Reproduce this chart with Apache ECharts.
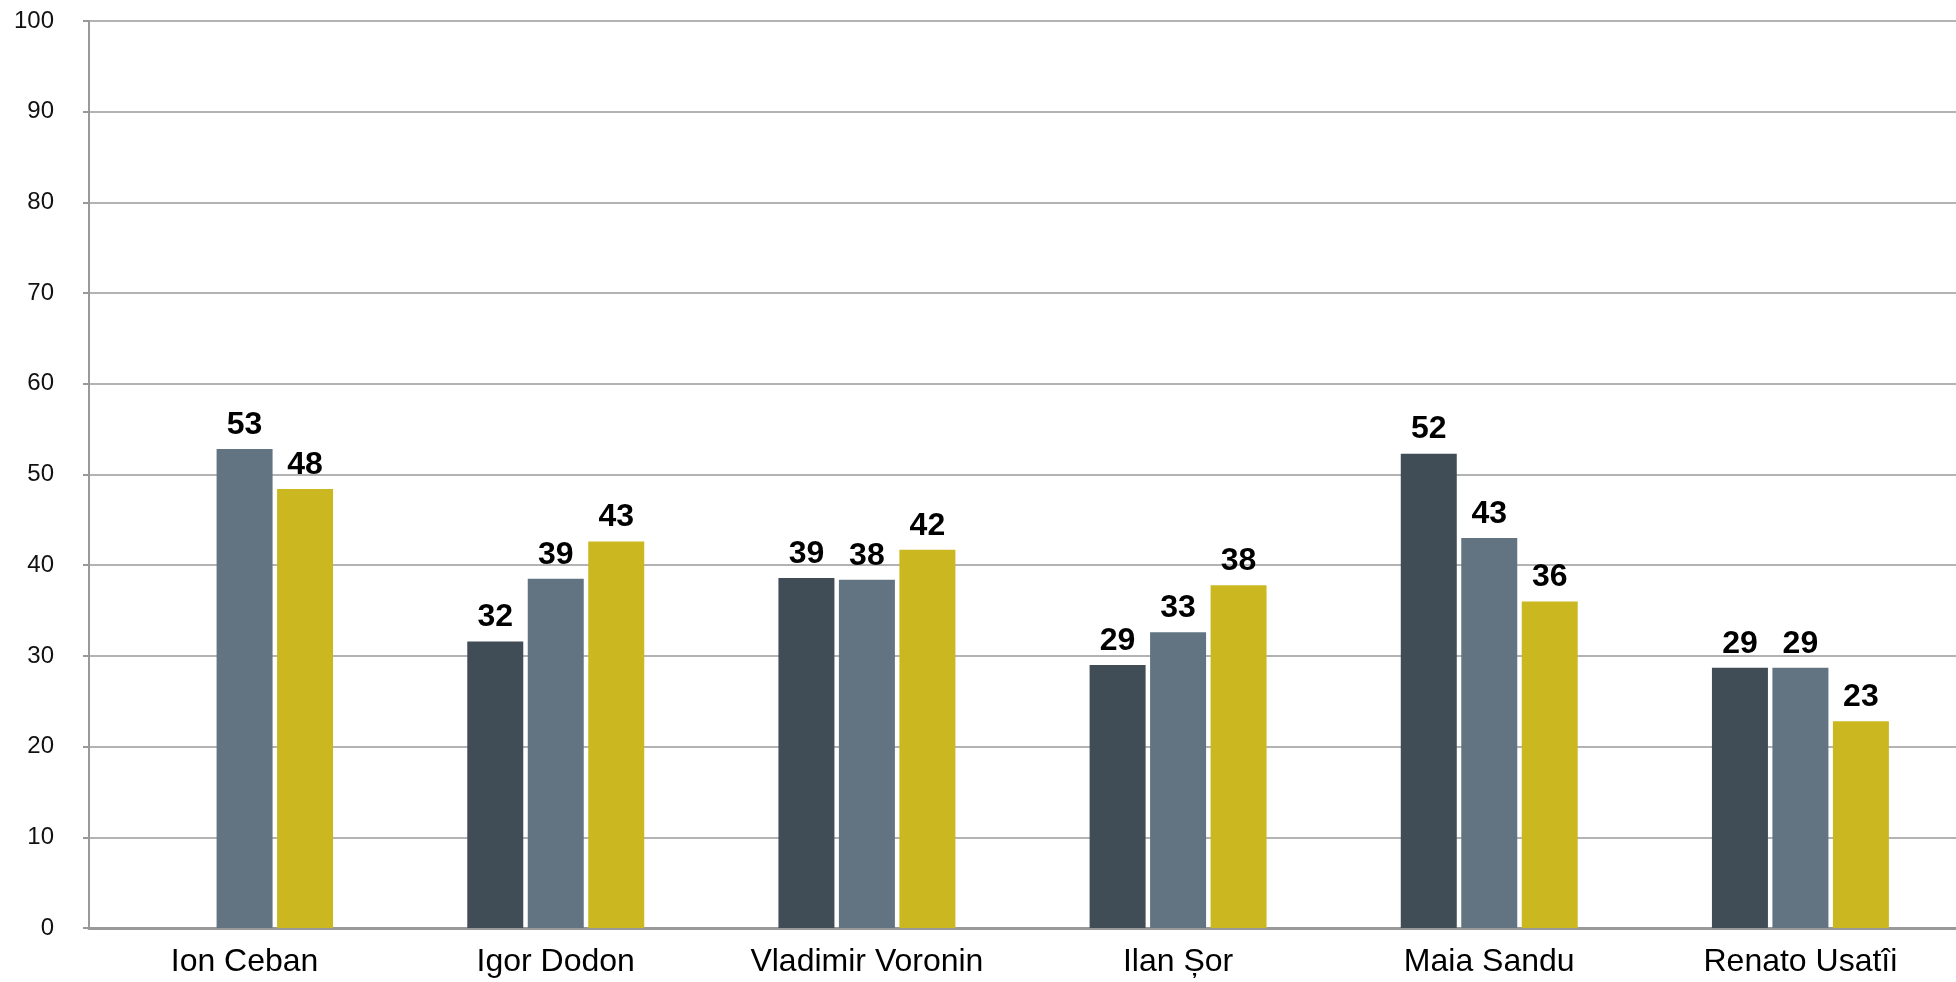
<!DOCTYPE html>
<html>
<head>
<meta charset="utf-8">
<script src="https://cdn.jsdelivr.net/npm/echarts@6/dist/echarts.min.js"></script>
<style>
  html, body { margin: 0; padding: 0; background: #ffffff; }
  #chart { width: 1956px; height: 982px; }
</style>
</head>
<body>
<div id="chart"></div>
<script>
  // candidates on the x axis
  var categories = ['Ion Ceban', 'Igor Dodon', 'Vladimir Voronin', 'Ilan Șor', 'Maia Sandu', 'Renato Usatîi'];
  // three series (no legend in the picture)
  var seriesDark = [null, 31.6, 38.6, 29.0, 52.3, 28.7];
  var seriesMid = [52.8, 38.5, 38.4, 32.6, 43.0, 28.7];
  var seriesGold = [48.4, 42.6, 41.7, 37.8, 36.0, 22.8];
  var yTicks = { min: 0, max: 100, interval: 10 };

  var labelStyle = {
    show: true,
    position: 'top',
    distance: 8,
    color: '#000',
    fontFamily: 'Liberation Sans',
    fontWeight: 'bold',
    fontSize: 32,
    formatter: function (p) { return Math.round(p.value); }
  };

  function bar(data, color) {
    return {
      type: 'bar',
      data: data,
      barWidth: 56,
      barGap: '8%',
      itemStyle: { color: color },
      label: labelStyle
    };
  }

  var myChart = echarts.init(document.getElementById('chart'));
  myChart.setOption({
    animation: false,
    grid: { left: 89, right: 0, top: 21, bottom: 54 },
    xAxis: {
      type: 'category',
      data: categories,
      axisLine: { lineStyle: { color: '#999', width: 3 } },
      axisTick: { show: false },
      axisLabel: {
        color: '#000',
        fontFamily: 'Liberation Sans',
        fontSize: 32,
        margin: 18
      }
    },
    yAxis: {
      type: 'value',
      min: yTicks.min,
      max: yTicks.max,
      interval: yTicks.interval,
      axisLine: { show: true, lineStyle: { color: '#999', width: 2 } },
      axisTick: { show: true, length: 6, lineStyle: { color: '#999', width: 2 } },
      splitLine: { lineStyle: { color: '#b3b3b3', width: 2 } },
      axisLabel: {
        color: '#111',
        fontFamily: 'Liberation Sans',
        fontSize: 24,
        margin: 35
      }
    },
    series: [
      bar(seriesDark, '#404d56'),
      bar(seriesMid, '#627482'),
      bar(seriesGold, '#cbb821')
    ]
  });
</script>
</body>
</html>
